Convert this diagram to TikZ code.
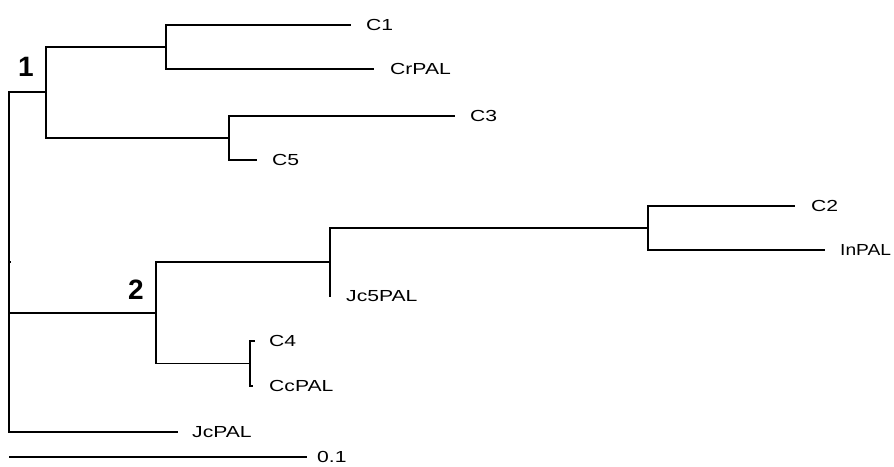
\documentclass[tikz,border=0pt]{standalone}
\usepackage{fontspec}
\setmainfont{Liberation Sans}
\newfontfamily\leaffont[FakeStretch=1.32]{Liberation Sans}
\newfontfamily\leaffontnarrow[FakeStretch=1.2]{Liberation Sans}
\begin{document}
\begin{tikzpicture}[x=1pt,y=-1pt,
  branch/.style={line width=1.6pt,line join=miter,line cap=butt},
  leaf/.style={anchor=west,inner sep=0pt,font=\leaffont\fontsize{16}{16}\selectfont,
               text height=11.4pt,text depth=0pt},
  narrowleaf/.style={leaf,font=\leaffontnarrow\fontsize{16}{16}\selectfont},
  clade/.style={inner sep=0pt,font=\bfseries\fontsize{28}{28}\selectfont}]
\useasboundingbox (0,0) rectangle (894,466);

% internal nodes of the tree
\coordinate (root) at (9,262);
\coordinate (n1) at (46,92);
\coordinate (a)  at (166,47);
\coordinate (b)  at (229,138);
\coordinate (n2) at (156,313);
\coordinate (c)  at (330,262);
\coordinate (e)  at (648,228);
\coordinate (d)  at (250,363.5);

% tips
\coordinate (tC1)    at (351,25);
\coordinate (tCrPAL) at (374,69);
\coordinate (tC3)    at (455,116);
\coordinate (tC5)    at (257,160);
\coordinate (tC2)    at (795,206);
\coordinate (tInPAL) at (825,250);
\coordinate (tJc5)   at (331,296);
\coordinate (tC4)    at (255,341);
\coordinate (tCcPAL) at (253,386);
\coordinate (tJcPAL) at (178,432);

% scale bar ends
\coordinate (s0) at (9,457);
\coordinate (s1) at (307,457);

% branches
\draw[branch] (root) |- (n1);
\draw[branch] (root) |- (n2);
\draw[branch] (root) |- (tJcPAL);
\draw[branch] (root) -- ++(2,0);
\draw[branch] (n1) |- (a);
\draw[branch] (n1) |- (b);
\draw[branch] (a) |- (tC1);
\draw[branch] (a) |- (tCrPAL);
\draw[branch] (b) |- (tC3);
\draw[branch] (b) |- (tC5);
\draw[branch] (n2) |- (c);
\draw[branch] (n2) |- (d);
\draw[branch] (c) |- (e);
\draw[branch] (c) |- (tJc5);
\draw[branch] (e) |- (tC2);
\draw[branch] (e) |- (tInPAL);
\draw[branch] (d) |- (tC4);
\draw[branch] (d) |- (tCcPAL);
\draw[branch] (s0) -- (s1);

% tip labels
\node[leaf] (lC1)    at ([xshift=15]tC1)    {C1};
\node[leaf] (lCrPAL) at ([xshift=16]tCrPAL) {CrPAL};
\node[leaf] (lC3)    at ([xshift=15]tC3)    {C3};
\node[leaf] (lC5)    at ([xshift=15]tC5)    {C5};
\node[leaf] (lC2)    at ([xshift=16]tC2)    {C2};
\node[narrowleaf] (lInPAL) at ([xshift=15]tInPAL) {InPAL};
\node[leaf] (lJc5)   at ([xshift=15]tJc5)   {Jc5PAL};
\node[leaf] (lC4)    at ([xshift=14]tC4)    {C4};
\node[leaf] (lCcPAL) at ([xshift=16]tCcPAL) {CcPAL};
\node[leaf] (lJcPAL) at ([xshift=14]tJcPAL) {JcPAL};
\node[leaf] (lscale) at ([xshift=10]s1)     {0.1};

% clade numbers
\node[clade] (k1) at (26,67)  {1};
\node[clade] (k2) at (136,290) {2};
\end{tikzpicture}
\end{document}
